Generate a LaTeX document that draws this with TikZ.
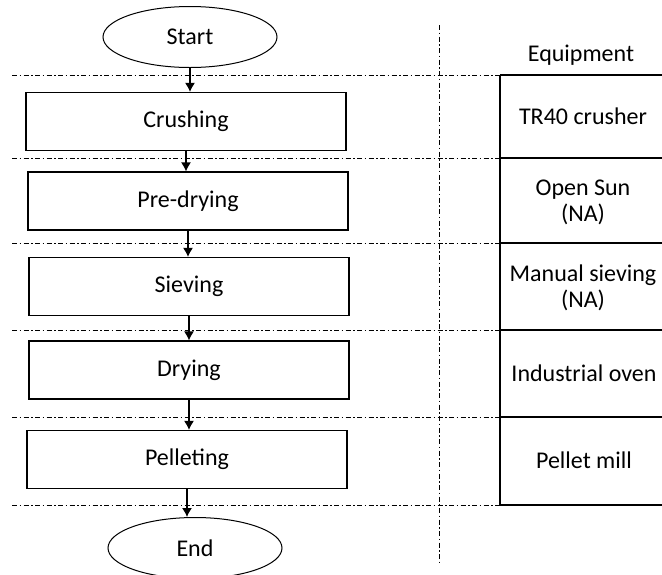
\documentclass[tikz,border=0pt]{standalone}
\usepackage{fontspec}
\setmainfont{Carlito}
\usetikzlibrary{shapes.geometric,arrows.meta}
\begin{document}
\begin{tikzpicture}[x=1pt, y=-1pt,
  font=\fontsize{24}{26}\selectfont,
  stepbox/.style={draw, line width=1.2pt, minimum width=320pt, minimum height=58pt, inner sep=0pt},
  terminal/.style={draw, ellipse, line width=1pt, minimum width=174pt, minimum height=61pt, inner sep=0pt},
  sep/.style={line width=0.8pt, dash pattern=on 5pt off 2.5pt on 1.5pt off 2.5pt},
  flow/.style={line width=1.2pt, -{Latex[length=9pt,width=10pt]}},
  tabline/.style={line width=1.2pt},
  equip/.style={align=center, inner sep=0pt}]
\useasboundingbox (0,0) rectangle (662,574);
% process steps
\node[terminal] (start) at (190,37) {Start};
\node[stepbox] (crush) at (186,121.5) {Crushing};
\node[stepbox] (predry) at (188,201) {Pre-drying};
\node[stepbox] (sieve) at (189,286.5) {Sieving};
\node[stepbox] (dry) at (189,370) {Drying};
\node[stepbox] (pellet) at (187,459.5) {Pelleting};
\node[terminal] (stop) at (195,548) {End};
% flow arrows
\draw[flow] (start.south) -- (start.south |- crush.north);
\draw[flow] (crush.south) -- (crush.south |- predry.north);
\draw[flow] (predry.south) -- (predry.south |- sieve.north);
\draw[flow] (sieve.south) -- (sieve.south |- dry.north);
\draw[flow] (dry.south) -- (dry.south |- pellet.north);
\draw[flow] (pellet.south) -- (pellet.south |- stop.north);
% separators
\draw[sep] (12,75) -- (500,75);
\foreach \y in {158,243,330,417,505}
  \draw[sep] (12,\y) -- (555,\y);
\draw[sep] (439,25) -- (439,562);
% equipment table
\draw[tabline] (500,75) -- (662,75);
\draw[tabline] (500,158) -- (662,158);
\draw[line width=2pt] (500,243) -- (662,243);
\draw[tabline] (500,330) -- (662,330);
\draw[tabline] (500,417) -- (662,417);
\draw[tabline] (500,505) -- (662,505);
\draw[tabline] (500,75) -- (500,505);
\node[equip] (eqhead) at (581,55) {Equipment};
\node[equip] (eqcrush) at (583,116) {TR40 crusher};
\node[equip] (eqpredry) at (583,202) {Open Sun\\(NA)};
\node[equip] (eqsieve) at (583,288) {Manual sieving\\(NA)};
\node[equip] (eqdry) at (584,373) {Industrial oven};
\node[equip] (eqpellet) at (584,460) {Pellet mill};
\end{tikzpicture}
\end{document}
